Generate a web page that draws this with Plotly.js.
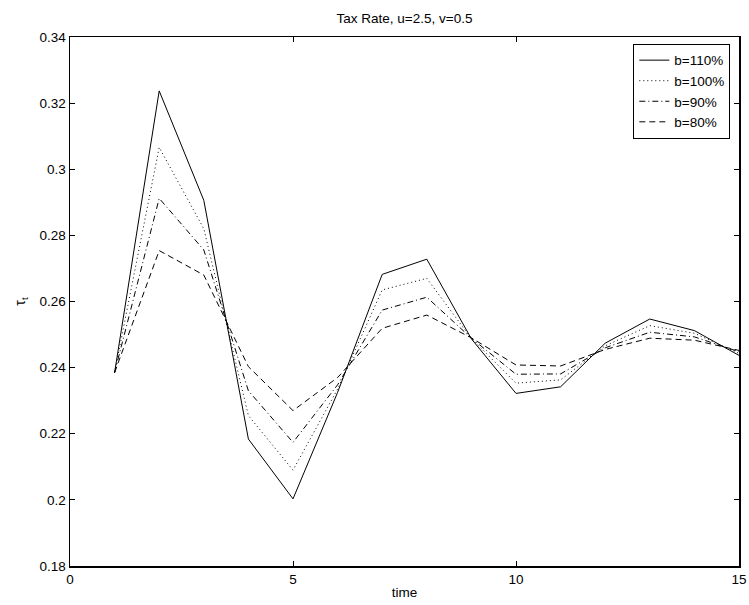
<!DOCTYPE html>
<html>
<head>
<meta charset="utf-8">
<script src="https://cdn.plot.ly/plotly-3.0.1.min.js"></script>
<style>html,body{margin:0;padding:0;background:#fff}#chart{width:749px;height:605px}</style>
</head>
<body>
<div id="chart"></div>
<script>
// Data
const time = [1, 2, 3, 4, 5, 6, 7, 8, 9, 10, 11, 12, 13, 14, 15];
const seriesNames = ['b=110%', 'b=100%', 'b=90%', 'b=80%'];
const tau_b110 = [0.2385, 0.3237, 0.2906, 0.2184, 0.2003, 0.2325, 0.2682, 0.2728, 0.2487, 0.2322, 0.2342, 0.2474, 0.2547, 0.2512, 0.2437];
const tau_b100 = [0.2385, 0.3066, 0.2820, 0.2255, 0.2090, 0.2335, 0.2635, 0.2670, 0.2488, 0.2353, 0.2363, 0.2466, 0.2527, 0.2504, 0.2443];
const tau_b90  = [0.2385, 0.2912, 0.2756, 0.2330, 0.2174, 0.2348, 0.2574, 0.2613, 0.2489, 0.2380, 0.2381, 0.2460, 0.2507, 0.2493, 0.2448];
const tau_b80  = [0.2385, 0.2754, 0.2680, 0.2403, 0.2270, 0.2370, 0.2519, 0.2559, 0.2490, 0.2408, 0.2405, 0.2455, 0.2489, 0.2483, 0.2452];
const xTicks = [0, 5, 10, 15];
const yTicks = [0.18, 0.2, 0.22, 0.24, 0.26, 0.28, 0.3, 0.32, 0.34];
const yTickText = ['0.18', '0.2', '0.22', '0.24', '0.26', '0.28', '0.3', '0.32', '0.34'];

const allSeries = [tau_b110, tau_b100, tau_b90, tau_b80];
const dashes = ['solid', '1px,3px', '6px,3px,1px,3px', '6px,4px'];

const traces = allSeries.map((ys, i) => ({
  x: time, y: ys, type: 'scatter', mode: 'lines', name: seriesNames[i],
  line: {color: '#000', width: 1, dash: dashes[i]}
}));

const FONT = '"Liberation Sans", Arial, Helvetica, sans-serif';
const FS = 13.5;
const axisCommon = {
  showgrid: false, zeroline: false, showline: true, linecolor: '#000', linewidth: 1.5,
  mirror: 'ticks', ticks: 'inside', ticklen: 5, tickwidth: 1, tickcolor: '#000',
  tickfont: {family: FONT, size: FS, color: '#000'}
};

const layout = {
  width: 749, height: 605,
  margin: {l: 70, r: 10, t: 37, b: 39, pad: 0},
  paper_bgcolor: '#fff', plot_bgcolor: '#fff',
  font: {family: FONT, size: FS, color: '#000'},
  title: {text: 'Tax Rate, u=2.5, v=0.5', font: {family: FONT, size: FS, color: '#000'},
          x: 0.5, xref: 'paper', y: 1 - 18 / 605, yanchor: 'middle'},
  xaxis: Object.assign({}, axisCommon, {
    range: [0, 15], tickvals: xTicks, ticktext: xTicks.map(String),
    title: {text: 'time', font: {family: FONT, size: FS, color: '#000'}, standoff: 2}
  }),
  yaxis: Object.assign({}, axisCommon, {
    range: [0.18, 0.34], tickvals: yTicks, ticktext: yTickText,
    title: {text: 'τ<sub>t</sub>', font: {family: FONT, size: 14, color: '#000'}, standoff: 10}
  }),
  showlegend: true,
  legend: {
    x: 0.987, y: 0.987, xanchor: 'right', yanchor: 'top',
    bgcolor: '#fff', bordercolor: '#000', borderwidth: 1,
    font: {family: FONT, size: FS, color: '#000'},
    tracegroupgap: 0, itemwidth: 30
  }
};

Plotly.newPlot('chart', traces, layout, {displayModeBar: false, staticPlot: true});
</script>
</body>
</html>
